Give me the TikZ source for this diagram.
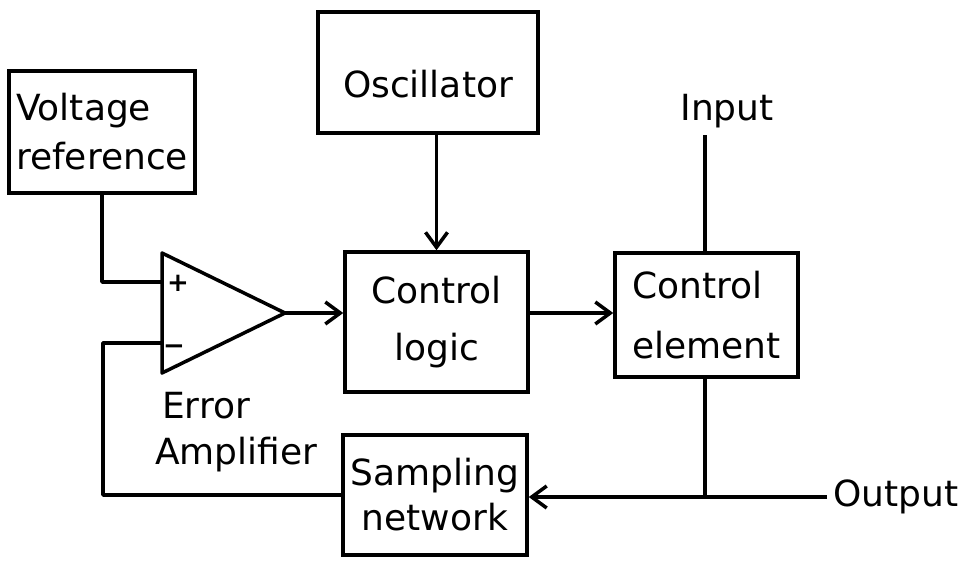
\documentclass[tikz,border=0pt]{standalone}
\usepackage{fontspec}
\newfontfamily\dvfont{DejaVu Sans}
\usetikzlibrary{arrows.meta}
\begin{document}
\begin{tikzpicture}[x=1pt,y=-1pt,
  lw/.style={line width=3.5pt},
  blockbox/.style={draw,lw,inner sep=0pt,font={\dvfont\fontsize{36}{46}\selectfont}},
  lbl/.style={inner sep=0pt,font={\dvfont\fontsize{36}{46}\selectfont}},
  sign/.style={inner sep=0pt,font={\dvfont\fontsize{26}{30}\selectfont\bfseries}},
  wire/.style={lw,line join=round},
  arr/.style={wire,-{Straight Barb[length=15pt,width=22pt]}}]
\useasboundingbox (0,0) rectangle (965,560);
% blocks
\node[blockbox,minimum width=186pt,minimum height=122pt,align=left,
      font={\dvfont\fontsize{36}{49}\selectfont}] (vref) at (102,132) {Voltage\\reference};
\node[blockbox,minimum width=220pt,minimum height=121pt] (osc) at (428,72.5) {\raisebox{-12pt}[\height][\depth]{Oscillator}};
\node[blockbox,minimum width=183pt,minimum height=140pt,align=center,
      font={\dvfont\fontsize{36}{57}\selectfont}] (ctl) at (436.5,322) {Control\\logic};
\node[blockbox,minimum width=183pt,minimum height=124pt,align=left,
      font={\dvfont\fontsize{36}{60}\selectfont}] (cel) at (706.5,315) {Control\\element};
\node[blockbox,minimum width=184pt,minimum height=120pt,align=center,
      font={\dvfont\fontsize{36}{45}\selectfont}] (samp) at (435,495) {Sampling\\network};
% amplifier
\coordinate (ampT) at (162,253);
\coordinate (ampB) at (162,373);
\coordinate (ampO) at (285,313);
\coordinate (ampP) at (162,282);
\coordinate (ampN) at (162,343);
\draw[lw,line join=round] (ampT) -- (ampO) -- (ampB) -- cycle;
\node[sign] (plus) at (178,283) {+};
\node[sign] (minus) at (174,350) {\symbol{"2212}};
\node[lbl,anchor=west,align=left,font={\dvfont\fontsize{36}{46}\selectfont}] (ea) at (155,432) {\hspace*{7pt}Error\\Amplifier};
% terminals
\coordinate (inp) at (705,135);
\coordinate (junc) at (705,497);
\coordinate (outend) at (827,497);
\node[lbl] (intext) at (727,111) {Input};
\node[lbl,anchor=west] (outtext) at (833,497) {Output};
% connectors
\draw[wire] (vref.south) |- (ampP);
\draw[arr] (ampO) -- (ampO -| ctl.west);
\draw[arr] (osc.south -| ctl.north) -- (ctl.north);
\draw[arr] (ctl.east |- ampO) -- (cel.west |- ampO);
\draw[wire] (inp) -- (inp |- cel.north);
\draw[wire] (cel.south -| junc) -- (junc);
\draw[arr] (outend) -- (samp.east |- outend);
\draw[wire] (ampN) -- (103,343) |- (samp.west);
\end{tikzpicture}
\end{document}
